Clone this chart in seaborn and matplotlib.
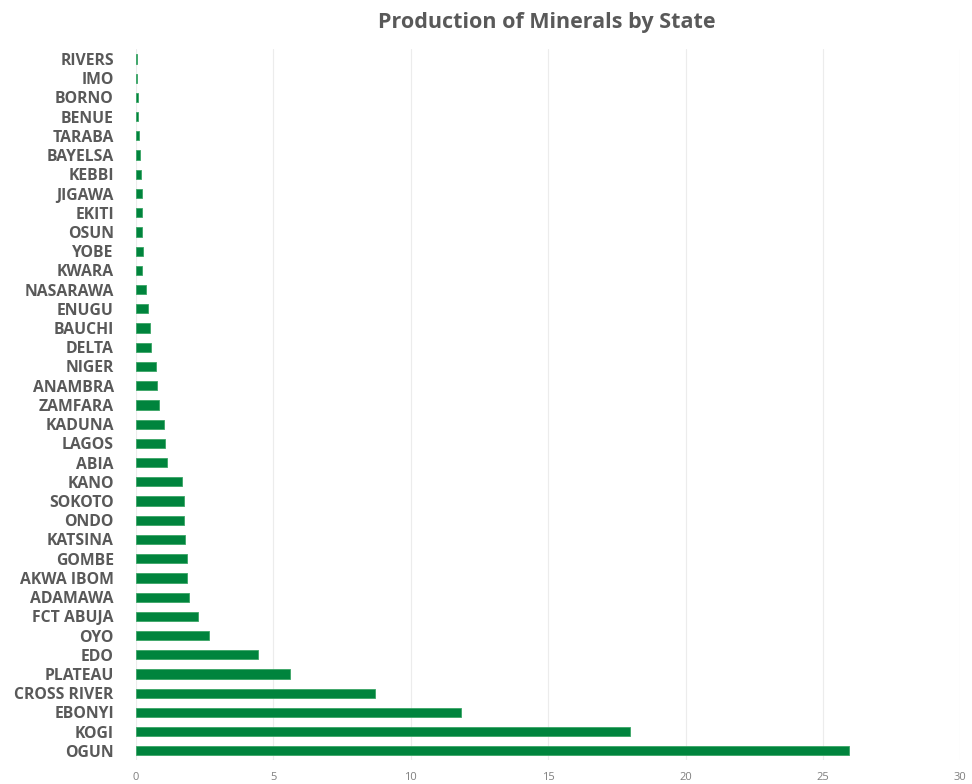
import matplotlib
matplotlib.use("Agg")
import matplotlib.pyplot as plt
import seaborn as sns
import pandas as pd

# ── data (top → bottom) ──────────────────────────────────────────────────────
states = [
    "RIVERS", "IMO", "BORNO", "BENUE", "TARABA", "BAYELSA", "KEBBI", "JIGAWA",
    "EKITI", "OSUN", "YOBE", "KWARA", "NASARAWA", "ENUGU", "BAUCHI", "DELTA",
    "NIGER", "ANAMBRA", "ZAMFARA", "KADUNA", "LAGOS", "ABIA", "KANO", "SOKOTO",
    "ONDO", "KATSINA", "GOMBE", "AKWA IBOM", "ADAMAWA", "FCT ABUJA", "OYO",
    "EDO", "PLATEAU", "CROSS RIVER", "EBONYI", "KOGI", "OGUN",
]
production = [
    0.05, 0.05, 0.06, 0.07, 0.11, 0.13, 0.18, 0.20,
    0.22, 0.23, 0.24, 0.23, 0.35, 0.42, 0.50, 0.56,
    0.72, 0.76, 0.84, 1.02, 1.07, 1.12, 1.66, 1.73,
    1.75, 1.79, 1.84, 1.87, 1.91, 2.26, 2.64,
    4.43, 5.59, 8.68, 11.84, 17.98, 25.93,
]
x_ticks = [0, 5, 10, 15, 20, 25, 30]

df = pd.DataFrame({"State": states, "Production": production})

# ── plot ──────────────────────────────────────────────────────────────────────
sns.set_theme(style="white")
plt.rcParams["font.family"] = ["Open Sans", "DejaVu Sans"]

fig = plt.figure(figsize=(9.72, 7.84), dpi=100)
ax = fig.add_axes([0.14, 0.03, 0.848, 0.907])

sns.barplot(data=df, x="Production", y="State", order=states,
            color="#00843D", saturation=1, width=0.48,
            edgecolor="#3aa566", linewidth=0.6, ax=ax)

ax.set_xlim(0, 30)
ax.set_xticks(x_ticks)
ax.xaxis.grid(True, color="#ececec", linewidth=0.8)
ax.set_axisbelow(True)
sns.despine(ax=ax, left=True, bottom=True)

ax.set_xlabel("")
ax.set_ylabel("")
ax.tick_params(axis="y", length=0, pad=16, labelsize=11.3, labelcolor="#595959")
ax.tick_params(axis="x", length=0, pad=8, labelsize=8, labelcolor="#7f7f7f")
for lbl in ax.get_yticklabels():
    lbl.set_fontweight("bold")

fig.suptitle("Production of Minerals by State", x=0.562, y=0.985,
             fontsize=15.5, fontweight="bold", color="#595959")

fig.savefig("out.png", dpi=100, facecolor="white")
